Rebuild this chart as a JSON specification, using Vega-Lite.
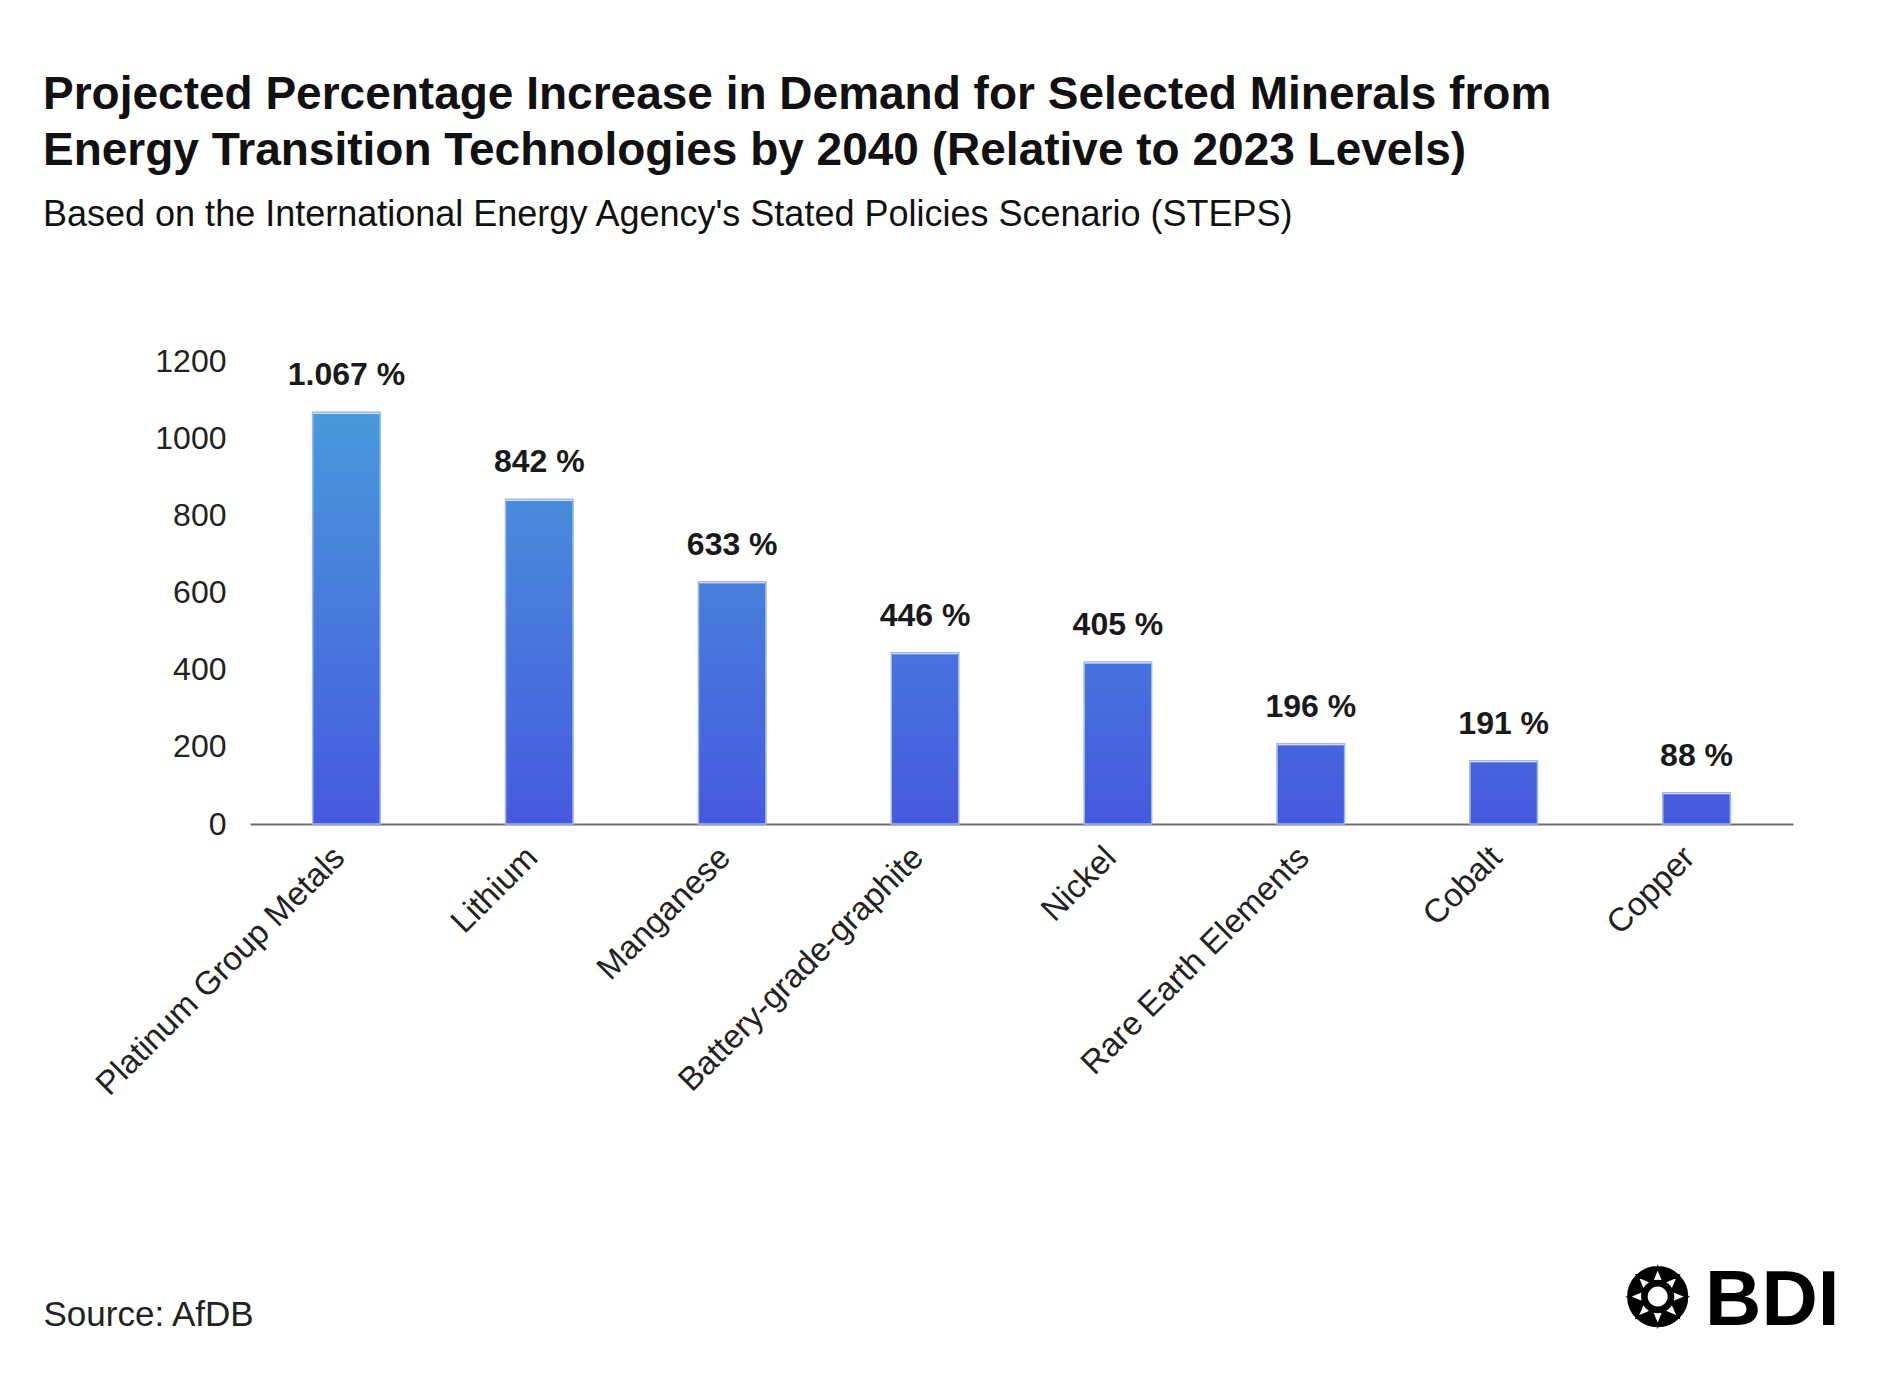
{
  "$schema": "https://vega.github.io/schema/vega-lite/v6.json",
  "width": 1543,
  "height": 463,
  "autosize": {"type": "none"},
  "padding": {"left": 250, "top": 361, "right": 108, "bottom": 550},
  "background": "white",
  "config": {
    "font": "Liberation Sans",
    "view": {"stroke": null}
  },
  "title": {
    "text": ["Projected Percentage Increase in Demand for Selected Minerals from", "Energy Transition Technologies by 2040 (Relative to 2023 Levels)"],
    "subtitle": "Based on the International Energy Agency's Stated Policies Scenario (STEPS)",
    "anchor": "start",
    "frame": "group",
    "dx": -207,
    "offset": 111,
    "fontSize": 46,
    "fontWeight": "bold",
    "lineHeight": 56,
    "color": "#111111",
    "subtitleFontSize": 36,
    "subtitleColor": "#111111",
    "subtitlePadding": 23
  },
  "data": {
    "values": [
      {"mineral": "Platinum Group Metals", "value": 1067, "label": "1.067 %"},
      {"mineral": "Lithium", "value": 842, "label": "842 %"},
      {"mineral": "Manganese", "value": 628, "label": "633 %"},
      {"mineral": "Battery-grade-graphite", "value": 444, "label": "446 %"},
      {"mineral": "Nickel", "value": 420, "label": "405 %"},
      {"mineral": "Rare Earth Elements", "value": 208, "label": "196 %"},
      {"mineral": "Cobalt", "value": 164, "label": "191 %"},
      {"mineral": "Copper", "value": 81, "label": "88 %"}
    ]
  },
  "encoding": {
    "x": {
      "field": "mineral",
      "type": "nominal",
      "sort": null,
      "scale": {"paddingInner": 0.65, "paddingOuter": 0.325},
      "axis": {
        "grid": false,
        "labelAngle": -45,
        "labelAlign": "right",
        "labelBaseline": "middle",
        "labelLimit": 0,
        "labelFontSize": 33,
        "labelColor": "#222222",
        "labelPadding": 28,
        "labelOffset": -7,
        "ticks": false,
        "domainColor": "#6e6e6e",
        "domainWidth": 2,
        "title": "Source: AfDB",
        "titleFontSize": 35,
        "titleFontWeight": "normal",
        "titleColor": "#222222",
        "titleAnchor": null,
        "titleAlign": "left",
        "titleBaseline": "alphabetic",
        "titleX": -207,
        "titleY": 501
      }
    }
  },
  "layer": [
    {
      "mark": {
        "type": "bar",
        "color": {
          "gradient": "linear",
          "x1": 0, "y1": 0, "x2": 0, "y2": 1,
          "stops": [
            {"offset": 0, "color": "#49A1DA"},
            {"offset": 1, "color": "#4659DF"}
          ]
        }
      },
      "encoding": {
        "y": {
          "datum": 1200,
          "type": "quantitative",
          "scale": {"domain": [0, 1200]},
          "axis": {
            "values": [0, 200, 400, 600, 800, 1000, 1200],
            "format": "d",
            "grid": false,
            "domain": false,
            "ticks": false,
            "labelFontSize": 32,
            "labelColor": "#222222",
            "labelPadding": 24,
            "title": "❂\u2009BDI",
            "titleAngle": 0,
            "titleFontSize": 78,
            "titleFontWeight": 900,
            "titleColor": "#000000",
            "titleAnchor": null,
            "titleAlign": "left",
            "titleBaseline": "alphabetic",
            "titleX": 1374,
            "titleY": 963
          }
        }
      }
    },
    {
      "mark": {"type": "bar", "color": "white", "stroke": "white", "strokeWidth": 3},
      "encoding": {
        "y": {"field": "value", "type": "quantitative"},
        "y2": {"datum": 1200}
      }
    },
    {
      "mark": {"type": "bar", "fillOpacity": 0, "stroke": "#9CB9EE", "strokeWidth": 1.5},
      "encoding": {
        "y": {"field": "value", "type": "quantitative"}
      }
    },
    {
      "mark": {"type": "text", "fontSize": 32, "fontWeight": "bold", "color": "#1a1a1a", "baseline": "alphabetic", "dy": -27},
      "encoding": {
        "y": {"field": "value", "type": "quantitative"},
        "text": {"field": "label"}
      }
    }
  ]
}
